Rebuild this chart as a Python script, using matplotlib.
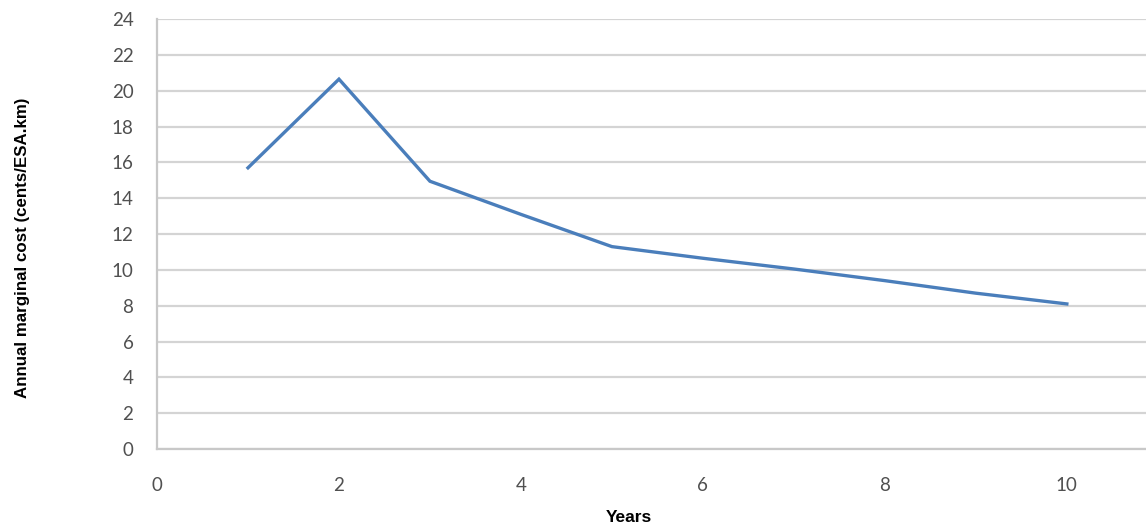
import matplotlib
matplotlib.use('Agg')
import matplotlib.pyplot as plt

# values
years = [1, 2, 3, 4, 5, 6, 7, 8, 9, 10]
marginal_cost = [15.7, 20.65, 14.95, 13.1, 11.3, 10.65, 10.05, 9.4, 8.7, 8.1]
y_ticks = list(range(0, 25, 2))
x_ticks = list(range(0, 11, 2))

fig = plt.figure(figsize=(11.46, 5.32), dpi=100)
ax = fig.add_axes([0.137, 0.156, 0.863, 0.808])

ax.plot(years, marginal_cost, color='#4a7ebb', linewidth=2.4, solid_joinstyle='miter')

ax.set_xlim(0, 10.87)
ax.set_ylim(0, 24)
ax.set_yticks(y_ticks)
ax.set_xticks(x_ticks)
ax.yaxis.grid(True, color='#d4d4d4', linewidth=1.6)
ax.set_axisbelow(True)

for side in ['top', 'right']:
    ax.spines[side].set_visible(False)
ax.spines['left'].set_color('#c8c8c8')
ax.spines['left'].set_linewidth(1.6)
ax.spines['bottom'].set_color('#c8c8c8')
ax.spines['bottom'].set_linewidth(1.6)

ax.tick_params(axis='y', length=0, pad=17, labelsize=13.5, labelcolor='#505050')
ax.tick_params(axis='x', length=0, pad=20, labelsize=13.5, labelcolor='#505050')
for lbl in ax.get_xticklabels() + ax.get_yticklabels():
    lbl.set_family('Lato')

fig.text(0.02, 0.535, 'Annual marginal cost (cents/ESA.km)', rotation=90,
         ha='center', va='center', fontsize=12.2, fontweight='bold', family='Liberation Sans')
fig.text(0.549, 0.027, 'Years', ha='center', va='center', fontsize=12.5,
         fontweight='bold', family='Liberation Sans')

fig.savefig('out.png', dpi=100)
